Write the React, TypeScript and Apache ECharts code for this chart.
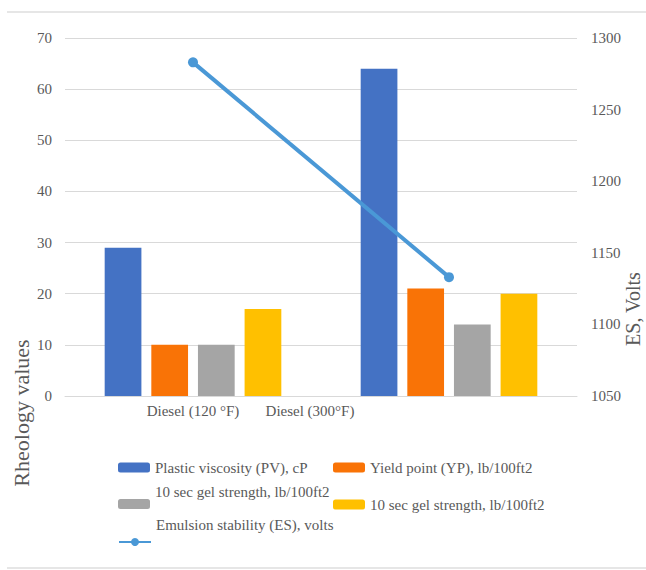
import React, { useEffect, useRef } from "react";
import * as echarts from "echarts";

const categories = ["Diesel (120 °F)", "Diesel (300°F)"];
const plasticViscosity = [29, 64];
const yieldPoint = [10, 21];
const gelStrengthA = [10, 14];
const gelStrengthB = [17, 20];
const emulsionStability = [1283, 1133];
const leftTicks = { min: 0, max: 70, interval: 10 };
const rightTicks = { min: 1050, max: 1300, interval: 50 };

const FONT = "'Liberation Serif', 'Times New Roman', serif";
const TXT = "#595959";

export default function App() {
  const ref = useRef<HTMLDivElement>(null);
  useEffect(() => {
    if (!ref.current) return;
    const chart = echarts.init(ref.current, undefined, { renderer: "svg" });
    const legendBase = {
      orient: "horizontal",
      itemWidth: 32,
      itemHeight: 10,
      itemGap: 10,
      padding: 0,
      textStyle: { fontFamily: FONT, fontSize: 15, color: TXT },
      selectedMode: false,
    };
    chart.setOption({
      animation: false,
      textStyle: { fontFamily: FONT },
      grid: { left: 65, right: 69, top: 38, bottom: 174, containLabel: false },
      xAxis: {
        type: "category",
        data: categories,
        axisTick: { show: false },
        axisLine: { lineStyle: { color: "#d9d9d9", width: 1 } },
        axisLabel: {
          margin: 7,
          color: TXT,
          fontFamily: FONT,
          fontSize: 15,
          formatter: (v: string, i: number) => (i === 0 ? `{a|${v}}` : `{b|${v}}`),
          rich: {
            a: { fontFamily: FONT, fontSize: 15, color: TXT },
            b: { fontFamily: FONT, fontSize: 15, color: TXT, padding: [0, 278, 0, 0] },
          },
        },
      },
      yAxis: [
        {
          type: "value",
          ...leftTicks,
          axisLine: { show: false },
          axisTick: { show: false },
          splitLine: { lineStyle: { color: "#d9d9d9", width: 1 } },
          axisLabel: { margin: 13, color: TXT, fontFamily: FONT, fontSize: 15 },
        },
        {
          type: "value",
          ...rightTicks,
          axisLine: { show: false },
          axisTick: { show: false },
          splitLine: { show: false },
          axisLabel: {
            margin: 14,
            color: TXT,
            fontFamily: FONT,
            fontSize: 15,
            formatter: (v: number) => String(v),
          },
        },
      ],
      legend: [
        { ...legendBase, left: 118, top: 460, data: ["Plastic viscosity (PV), cP"] },
        { ...legendBase, left: 333, top: 460, data: ["Yield point (YP), lb/100ft2"] },
        {
          ...legendBase,
          left: 118,
          top: 480,
          formatter: (n: string) => n + "\n",
          textStyle: { ...legendBase.textStyle, lineHeight: 24 },
          data: ["10 sec gel strength, lb/100ft2 "],
        },
        { ...legendBase, left: 333, top: 497, data: ["10 sec gel strength, lb/100ft2"] },
        {
          ...legendBase,
          left: 118,
          top: 508,
          formatter: (n: string) => n + "\n",
          textStyle: { ...legendBase.textStyle, lineHeight: 34 },
          data: ["Emulsion stability (ES), volts"],
        },
      ],
      series: [
        {
          name: "Plastic viscosity (PV), cP",
          type: "bar",
          data: plasticViscosity,
          itemStyle: { color: "#4472C4" },
          barGap: "27%",
          barCategoryGap: "31%",
        },
        { name: "Yield point (YP), lb/100ft2", type: "bar", data: yieldPoint, itemStyle: { color: "#F97306" } },
        { name: "10 sec gel strength, lb/100ft2 ", type: "bar", data: gelStrengthA, itemStyle: { color: "#A5A5A5" } },
        { name: "10 sec gel strength, lb/100ft2", type: "bar", data: gelStrengthB, itemStyle: { color: "#FFC000" } },
        {
          name: "Emulsion stability (ES), volts",
          type: "line",
          yAxisIndex: 1,
          data: emulsionStability,
          symbol: "circle",
          symbolSize: 10,
          lineStyle: { color: "#4A98D6", width: 4 },
          itemStyle: { color: "#4A98D6" },
        },
      ],
      graphic: [
        { type: "line", shape: { x1: 7, y1: 12, x2: 646, y2: 12 }, style: { stroke: "#e6e6e6", lineWidth: 2 } },
        { type: "line", shape: { x1: 7, y1: 568, x2: 646, y2: 568 }, style: { stroke: "#e6e6e6", lineWidth: 2 } },
        {
          type: "text",
          x: 21,
          y: 413,
          rotation: Math.PI / 2,
          style: { text: "Rheology values", fontFamily: FONT, fontSize: 22, fill: TXT, align: "center", verticalAlign: "middle" },
        },
        {
          type: "text",
          x: 633,
          y: 309,
          rotation: Math.PI / 2,
          style: { text: "ES, Volts", fontFamily: FONT, fontSize: 20, fill: TXT, align: "center", verticalAlign: "middle" },
        },
      ],
    });
    return () => chart.dispose();
  }, []);
  return <div ref={ref} style={{ width: 646, height: 570, position: "absolute", left: 0, top: 0 }} />;
}
